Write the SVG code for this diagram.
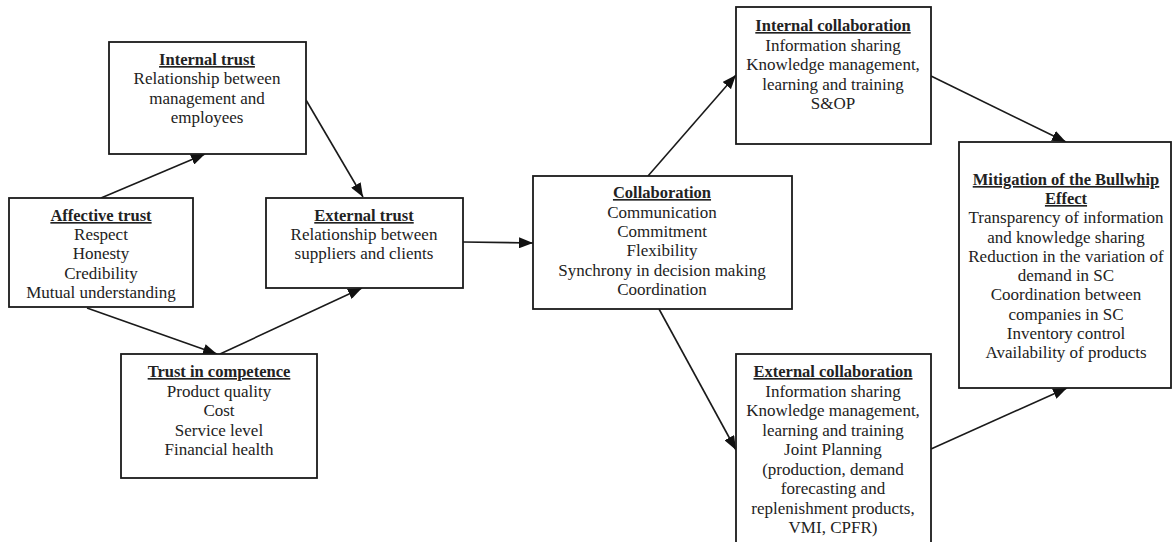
<svg xmlns="http://www.w3.org/2000/svg" width="1173" height="542" viewBox="0 0 1173 542">
<style>
.box{fill:#fff;stroke:#1a1a1a;stroke-width:1.8}
text{font-family:"Liberation Serif","Times New Roman",serif;font-size:17px;fill:#222;text-anchor:middle}
.t{font-weight:bold;text-decoration:underline;font-size:16.5px}
.c{stroke:#1a1a1a;stroke-width:1.6;fill:none;marker-end:url(#ah)}
</style>
<defs>
<marker id="ah" markerUnits="userSpaceOnUse" markerWidth="15" markerHeight="11" refX="14" refY="5.5" orient="auto">
<path d="M0,0 L14,5.5 L0,11 Z" fill="#111"/>
</marker>
</defs>
<rect width="1173" height="542" fill="#fff"/>
<g id="connectors">
<line class="c" x1="101" y1="198" x2="205" y2="154"/>
<line class="c" x1="306" y1="100" x2="363" y2="197"/>
<line class="c" x1="87" y1="308" x2="217" y2="354"/>
<line class="c" x1="220" y1="354" x2="362" y2="288"/>
<line class="c" x1="463" y1="242" x2="533" y2="243"/>
<line class="c" x1="648" y1="176" x2="736" y2="75"/>
<line class="c" x1="659" y1="309" x2="736" y2="450"/>
<line class="c" x1="931" y1="76" x2="1066" y2="142"/>
<line class="c" x1="931" y1="449" x2="1067" y2="388"/>
</g>
<g id="internal-trust">
<rect class="box" x="109" y="42" width="197" height="112"/>
<text class="t" x="207" y="65">Internal trust</text>
<text x="207" y="84">Relationship between</text>
<text x="207" y="104">management  and</text>
<text x="207" y="123">employees</text>
</g>
<g id="affective-trust">
<rect class="box" x="9" y="198" width="184" height="109"/>
<text class="t" x="101" y="221">Affective trust</text>
<text x="101" y="240">Respect</text>
<text x="101" y="259">Honesty</text>
<text x="101" y="279">Credibility</text>
<text x="101" y="298">Mutual  understanding</text>
</g>
<g id="external-trust">
<rect class="box" x="266" y="198" width="197" height="90"/>
<text class="t" x="364" y="221">External trust</text>
<text x="364" y="240">Relationship between</text>
<text x="364" y="259">suppliers and  clients</text>
</g>
<g id="trust-in-competence">
<rect class="box" x="121" y="354" width="196" height="124"/>
<text class="t" x="219" y="377">Trust in competence</text>
<text x="219" y="397">Product quality</text>
<text x="219" y="416">Cost</text>
<text x="219" y="436">Service  level</text>
<text x="219" y="455">Financial  health</text>
</g>
<g id="collaboration">
<rect class="box" x="533" y="176" width="259" height="133"/>
<text class="t" x="662" y="198">Collaboration</text>
<text x="662" y="218">Communication</text>
<text x="662" y="237">Commitment</text>
<text x="662" y="256">Flexibility</text>
<text x="662" y="276">Synchrony in decision making</text>
<text x="662" y="295">Coordination</text>
</g>
<g id="internal-collaboration">
<rect class="box" x="736" y="7" width="195" height="137"/>
<text class="t" x="833" y="31">Internal  collaboration</text>
<text x="833" y="51">Information  sharing</text>
<text x="833" y="70">Knowledge management,</text>
<text x="833" y="90">learning  and  training</text>
<text x="833" y="109">S&amp;OP</text>
</g>
<g id="external-collaboration">
<rect class="box" x="736" y="354" width="195" height="200"/>
<text class="t" x="833" y="377">External  collaboration</text>
<text x="833" y="397">Information sharing</text>
<text x="833" y="416">Knowledge management,</text>
<text x="833" y="436">learning  and  training</text>
<text x="833" y="455">Joint  Planning</text>
<text x="833" y="475">(production, demand</text>
<text x="833" y="494">forecasting  and</text>
<text x="833" y="514">replenishment  products,</text>
<text x="833" y="533">VMI, CPFR)</text>
</g>
<g id="mitigation">
<rect class="box" x="959" y="142" width="212" height="246"/>
<text class="t" x="1066" y="185">Mitigation  of  the  Bullwhip</text>
<text class="t" x="1066" y="204">Effect</text>
<text x="1066" y="223">Transparency of information</text>
<text x="1066" y="243">and knowledge  sharing</text>
<text x="1066" y="262">Reduction in the variation of</text>
<text x="1066" y="281">demand in SC</text>
<text x="1066" y="300">Coordination  between</text>
<text x="1066" y="320">companies  in  SC</text>
<text x="1066" y="339">Inventory control</text>
<text x="1066" y="358">Availability of products</text>
</g>
</svg>
